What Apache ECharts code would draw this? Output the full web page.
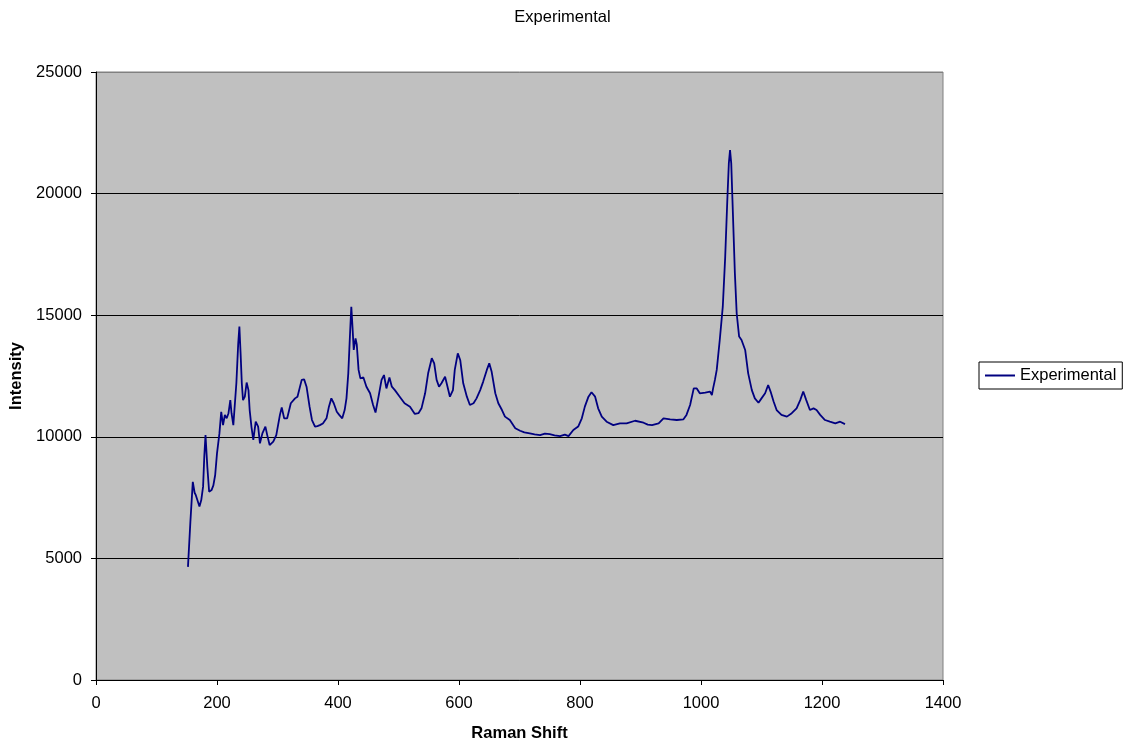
<!DOCTYPE html>
<html>
<head>
<meta charset="utf-8">
<script src="https://cdn.jsdelivr.net/npm/echarts@6/dist/echarts.min.js"></script>
<style>
  html, body { margin: 0; padding: 0; background: #fff; }
  #chart { width: 1125px; height: 743px; }
</style>
</head>
<body>
<div id="chart"></div>
<script>
// Raman spectrum: shift (cm-1) and measured intensity
const ramanShift = [
  152, 156, 160, 163, 165, 167, 171, 174, 177, 179, 181, 184, 187, 191, 194, 197, 200, 204, 207, 210,
  213, 216, 219, 222, 224, 227, 230, 232, 235, 237, 239, 241, 243, 246, 249, 252, 254, 257, 260, 264,
  268, 271, 275, 280, 283, 287, 293, 298, 304, 307, 311, 316, 322, 329, 333, 340, 344, 348, 353, 357,
  362, 366, 370, 375, 381, 385, 389, 393, 398, 402, 407, 411, 414, 417, 420, 422, 424, 426, 429, 431,
  434, 437, 442, 447, 453, 458, 462, 467, 472, 476, 480, 485, 489, 494, 502, 510, 519, 527, 533, 538,
  544, 549, 555, 559, 563, 567, 571, 577, 581, 585, 590, 593, 598, 602, 607, 613, 618, 624, 629, 635,
  640, 646, 650, 654, 660, 665, 671, 676, 684, 693, 701, 708, 717, 725, 734, 742, 750, 758, 767, 775,
  781, 789, 797, 803, 808, 814, 819, 825, 830, 836, 844, 855, 866, 877, 891, 905, 912, 919, 930, 938,
  949, 960, 971, 976, 982, 988, 993, 998, 1007, 1015, 1018, 1020, 1023, 1026, 1031, 1036, 1040, 1043.5, 1046, 1048,
  1050, 1052, 1056, 1059, 1063, 1067, 1070, 1073, 1078, 1084, 1089, 1095, 1100, 1106, 1111, 1115, 1120, 1125, 1133, 1142,
  1150, 1158, 1164, 1169, 1174, 1180, 1186, 1191, 1197, 1205, 1213, 1222, 1230, 1238
];
const intensity = [
  4650, 6500, 8150, 7700, 7600, 7600, 7130, 7400, 7950, 9200, 10070, 8770, 7740, 7810, 8000, 8430, 9320, 10140, 11030, 10480,
  10900, 10760, 10970, 11510, 10970, 10480, 10480, 12200, 13800, 14530, 13430, 12200, 11510, 11650, 12230, 11920, 11100, 10400, 9870, 10620,
  10420, 9730, 10140, 10420, 10070, 9660, 9800, 10070, 10900, 11210, 10760, 10760, 11380, 11580, 11650, 12340, 12360, 12060, 11240, 10690,
  10420, 10440, 10480, 10550, 10760, 11240, 11580, 11380, 11030, 10900, 10760, 11100, 11580, 12610, 14300, 15350, 14500, 13570, 14050, 13800,
  12750, 12400, 12440, 12060, 11790, 11310, 11000, 11650, 12340, 12540, 11990, 12440, 12060, 11920, 11650, 11380, 11240, 10940, 10970, 11170,
  11790, 12610, 13230, 13020, 12340, 12060, 12200, 12470, 12060, 11650, 11920, 12750, 13430, 13160, 12200, 11650, 11310, 11380, 11580, 11920,
  12270, 12750, 13020, 12670, 11790, 11380, 11100, 10830, 10690, 10350, 10250, 10180, 10140, 10100, 10070, 10130, 10110, 10060, 10030, 10090,
  10030, 10280, 10420, 10760, 11240, 11650, 11830, 11650, 11170, 10830, 10620, 10480, 10550, 10550, 10660, 10580, 10500, 10480, 10550, 10760,
  10720, 10690, 10720, 10900, 11310, 11990, 11990, 11790, 11820, 11860, 11720, 11990, 12340, 12750, 13980, 15350, 17400, 19740, 21240, 21790,
  21240, 19740, 16720, 15070, 14120, 13980, 14010, 13570, 12610, 11920, 11580, 11400, 11580, 11790, 12130, 11860, 11450, 11100, 10900, 10830,
  10970, 11170, 11510, 11860, 11510, 11100, 11170, 11100, 10900, 10690, 10620, 10550, 10620, 10520
];
const seriesName = 'Experimental';
const xTitle = 'Raman Shift';
const yTitle = 'Intensity';

const points = ramanShift.map((x, i) => [x, intensity[i]]);
const font = 'Arial, "Liberation Sans", sans-serif';
const fs = 16.5;

const chart = echarts.init(document.getElementById('chart'), null, { renderer: 'canvas' });
chart.setOption({
  animation: false,
  backgroundColor: '#ffffff',
  title: {
    text: seriesName,
    left: 'center',
    top: 4,
    textStyle: { fontFamily: font, fontSize: fs, fontWeight: 'normal', color: '#000' }
  },
  legend: {
    data: [{ name: seriesName, icon: 'rect' }],
    left: 979,
    top: 362,
    orient: 'vertical',
    padding: [5, 6, 5, 6],
    itemWidth: 30,
    itemHeight: 2,
    itemGap: 4,
    borderColor: '#000',
    borderWidth: 1,
    backgroundColor: '#fff',
    textStyle: { fontFamily: font, fontSize: fs, color: '#000' }
  },
  grid: {
    left: 96,
    top: 72,
    right: 182,
    bottom: 63,
    containLabel: false,
    outerBoundsMode: 'none',
    show: true,
    backgroundColor: '#c0c0c0',
    borderColor: '#808080',
    borderWidth: 1
  },
  xAxis: {
    type: 'value',
    min: 0,
    max: 1400,
    interval: 200,
    name: xTitle,
    nameLocation: 'middle',
    nameGap: 45,
    nameTextStyle: { fontFamily: font, fontSize: fs, fontWeight: 'bold', color: '#000' },
    axisLine: { show: true, onZero: false, lineStyle: { color: '#000', width: 1 } },
    axisTick: { show: true, inside: false, length: 5, lineStyle: { color: '#000' } },
    axisLabel: { fontFamily: font, fontSize: fs, color: '#000', margin: 15, formatter: v => String(v) },
    splitLine: { show: false }
  },
  yAxis: {
    type: 'value',
    min: 0,
    max: 25000,
    interval: 5000,
    name: yTitle,
    nameLocation: 'middle',
    nameGap: 70,
    nameTextStyle: { fontFamily: font, fontSize: fs, fontWeight: 'bold', color: '#000' },
    axisLine: { show: true, onZero: false, lineStyle: { color: '#000', width: 1 } },
    axisTick: { show: true, inside: false, length: 5, lineStyle: { color: '#000' } },
    axisLabel: { fontFamily: font, fontSize: fs, color: '#000', margin: 14, formatter: v => String(v) },
    splitLine: { show: true, lineStyle: { color: ['#000', '#000', '#000', '#000', '#000', '#808080'], width: 1 } }
  },
  series: [{
    name: seriesName,
    type: 'line',
    data: points,
    symbol: 'none',
    smooth: false,
    lineStyle: { color: '#000080', width: 1.8 },
    itemStyle: { color: '#000080' }
  }]
});
</script>
</body>
</html>
